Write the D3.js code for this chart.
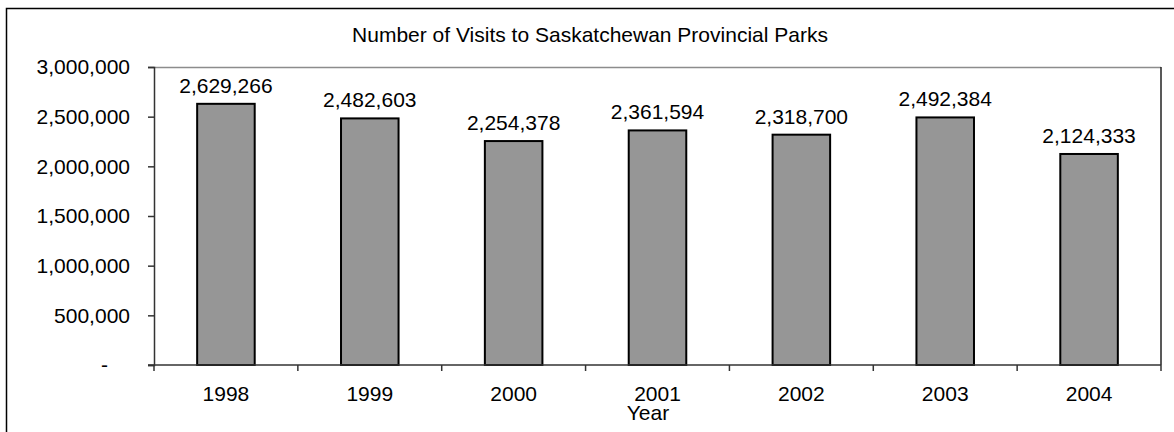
<!DOCTYPE html>
<html>
<head>
<meta charset="utf-8">
<script src="https://cdn.jsdelivr.net/npm/d3@7"></script>
<style>
  html, body { margin: 0; padding: 0; background: #fff; }
  svg { display: block; font-family: "Liberation Sans", Arial, sans-serif; }
</style>
</head>
<body>
<svg id="chart" width="1174" height="432"></svg>
<script>
const categories = ["1998", "1999", "2000", "2001", "2002", "2003", "2004"];
const visits = [2629266, 2482603, 2254378, 2361594, 2318700, 2492384, 2124333];
const yTicks = [0, 500000, 1000000, 1500000, 2000000, 2500000, 3000000];
const title = "Number of Visits to Saskatchewan Provincial Parks";
const xTitle = "Year";

const FS = 21;
const svg = d3.select("#chart");
const plot = { left: 154, right: 1161, top: 67, bottom: 365 };

// outer chart-area frame (extends beyond the window on right/bottom)
svg.append("rect")
  .attr("x", 6.5).attr("y", 8.5)
  .attr("width", 1200).attr("height", 460)
  .attr("fill", "#fff").attr("stroke", "#000").attr("stroke-width", 1.5);

const xBand = d3.scaleBand().domain(categories).range([plot.left, plot.right]);
const y = d3.scaleLinear().domain([0, 3000000]).range([plot.bottom, plot.top]);
const fmt = d3.format(",");

// plot area border (top gray, right dark)
svg.append("line")
  .attr("x1", plot.left).attr("x2", plot.right)
  .attr("y1", plot.top + 0.5).attr("y2", plot.top + 0.5)
  .attr("stroke", "#8c8c8c").attr("stroke-width", 1.5);
svg.append("line")
  .attr("x1", plot.right).attr("x2", plot.right)
  .attr("y1", plot.top).attr("y2", plot.bottom)
  .attr("stroke", "#222").attr("stroke-width", 1.5);

// bars
svg.append("g").selectAll("rect")
  .data(visits)
  .join("rect")
  .attr("x", (d, i) => xBand(categories[i]) + xBand.bandwidth() / 2 - xBand.bandwidth() * 0.2)
  .attr("width", xBand.bandwidth() * 0.4)
  .attr("y", d => y(d))
  .attr("height", d => y(0) - y(d))
  .attr("fill", "#969696")
  .attr("stroke", "#000")
  .attr("stroke-width", 2);

// value labels
svg.append("g").selectAll("text")
  .data(visits)
  .join("text")
  .attr("x", (d, i) => xBand(categories[i]) + xBand.bandwidth() / 2)
  .attr("y", d => y(d) - 11)
  .attr("text-anchor", "middle")
  .attr("font-size", FS)
  .attr("fill", "#000")
  .text(d => fmt(d));

// y axis
const yAxis = d3.axisLeft(y)
  .tickValues(yTicks)
  .tickSize(6)
  .tickPadding(18)
  .tickFormat(d => d === 0 ? "-" : fmt(d));
const gy = svg.append("g").attr("transform", `translate(${plot.left},0)`).call(yAxis);
gy.select(".domain").attr("stroke", "#333").attr("stroke-width", 1.5);
gy.selectAll(".tick line").attr("stroke", "#333").attr("stroke-width", 1.5);
gy.selectAll(".tick text")
  .attr("font-size", FS)
  .attr("font-family", "Liberation Sans, Arial, sans-serif")
  .attr("fill", "#000");
gy.selectAll(".tick text").filter(d => d === 0).attr("dx", -22);

// x axis
const xAxis = d3.axisBottom(xBand).tickSize(0).tickPadding(21);
const gx = svg.append("g").attr("transform", `translate(0,${plot.bottom})`).call(xAxis);
gx.select(".domain").remove();
gx.selectAll(".tick text")
  .attr("font-size", FS)
  .attr("font-family", "Liberation Sans, Arial, sans-serif")
  .attr("fill", "#000");
svg.append("line")
  .attr("x1", plot.left - 6).attr("x2", plot.right)
  .attr("y1", plot.bottom).attr("y2", plot.bottom)
  .attr("stroke", "#333").attr("stroke-width", 1.5);
// category boundary ticks
const bounds = categories.map(c => xBand(c)).concat([plot.right]);
svg.append("g").selectAll("line")
  .data(bounds)
  .join("line")
  .attr("x1", d => d).attr("x2", d => d)
  .attr("y1", plot.bottom).attr("y2", plot.bottom + 6)
  .attr("stroke", "#333").attr("stroke-width", 1.5);

// titles
svg.append("text")
  .attr("x", 590).attr("y", 42)
  .attr("text-anchor", "middle")
  .attr("font-size", FS)
  .attr("fill", "#000")
  .text(title);
svg.append("text")
  .attr("x", 648).attr("y", 420)
  .attr("text-anchor", "middle")
  .attr("font-size", FS)
  .attr("fill", "#000")
  .text(xTitle);
</script>
</body>
</html>
